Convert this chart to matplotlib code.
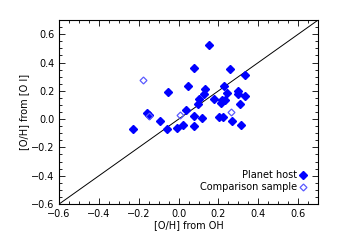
import matplotlib
matplotlib.use("Agg")
import matplotlib.pyplot as plt
from matplotlib.ticker import MultipleLocator

# planet hosts: [O/H] from OH vs [O/H] from [O I]
host_x = [0.153, 0.077, 0.259, 0.334, -0.055, 0.047, 0.132, 0.228, 0.127, 0.243,
          0.299, 0.299, 0.178, 0.102, 0.334, 0.218, 0.213, 0.309, 0.097, 0.036,
          0.077, 0.117, 0.203, 0.223, 0.269, -0.161, -0.151, -0.095, -0.231, -0.06,
          -0.009, 0.021, 0.077, 0.314, 0.233]
host_y = [0.522, 0.36, 0.353, 0.31, 0.19, 0.233, 0.212, 0.233, 0.176, 0.183,
          0.198, 0.176, 0.141, 0.141, 0.162, 0.134, 0.113, 0.106, 0.106, 0.064,
          0.021, 0.007, 0.014, 0.014, -0.014, 0.042, 0.028, -0.014, -0.07, -0.07,
          -0.063, -0.042, -0.049, -0.042, 0.134]

# comparison sample
comp_x = [-0.181, 0.006, 0.264, -0.15]
comp_y = [0.275, 0.028, 0.05, 0.02]

plt.rcParams['font.size'] = 7

fig = plt.figure(figsize=(3.38, 2.42), dpi=100)
ax = fig.add_axes([0.175, 0.157, 0.766, 0.76])

ax.plot([-0.6, 0.7], [-0.6, 0.7], color='black', lw=0.7)
ax.plot(host_x, host_y, 'D', color='#0000ff', ms=4, mec='#0000ff',
        linestyle='none', label='Planet host')
ax.plot(comp_x, comp_y, 'D', mfc='none', mec='#5a5aff', ms=3.5, mew=0.9,
        linestyle='none', label='Comparison sample')

ax.set_xlim(-0.6, 0.7)
ax.set_ylim(-0.6, 0.7)
ax.xaxis.set_major_locator(MultipleLocator(0.2))
ax.yaxis.set_major_locator(MultipleLocator(0.2))
ax.xaxis.set_minor_locator(MultipleLocator(0.05))
ax.yaxis.set_minor_locator(MultipleLocator(0.05))
ax.tick_params(which='both', direction='in', top=True, right=True, width=0.6)
ax.tick_params(which='major', length=4)
ax.tick_params(which='minor', length=2)
for s in ax.spines.values():
    s.set_linewidth(0.8)

ax.set_xlabel('[O/H] from OH', labelpad=1)
ax.set_ylabel('[O/H] from [O I]', labelpad=1)

ax.legend(loc='lower right', frameon=False, markerfirst=False,
          handlelength=0.6, handletextpad=0.4, labelspacing=0.2,
          borderaxespad=0.8, fontsize=7)

plt.savefig('out.png', dpi=100)
